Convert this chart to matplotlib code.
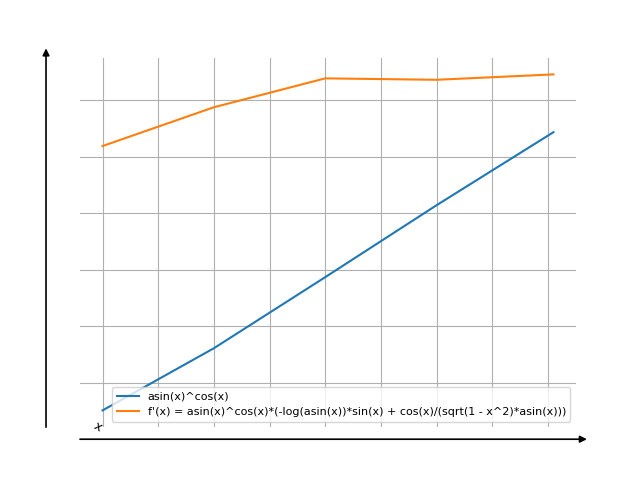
import matplotlib
matplotlib.use("Agg")
from matplotlib import pyplot as plt

# sample points and the two curves
x = [0.1, 0.3, 0.5, 0.7, 0.91]
f_vals = [0.1035, 0.323, 0.574, 0.828, 1.086]
df_vals = [1.037, 1.174, 1.276, 1.271, 1.290]

xticks = [0.1, 0.2, 0.3, 0.4, 0.5, 0.6, 0.7, 0.8, 0.9]
yticks = [0.2, 0.4, 0.6, 0.8, 1.0, 1.2]

fig, ax = plt.subplots(figsize=(6.4, 4.8), dpi=100)

ax.plot(x, f_vals, label="asin(x)^cos(x)")
ax.plot(x, df_vals, label="f'(x) = asin(x)^cos(x)*(-log(asin(x))*sin(x) + cos(x)/(sqrt(1 - x^2)*asin(x)))")

ax.set_xticks(xticks)
ax.set_yticks(yticks)
ax.tick_params(length=0, labelbottom=False, labelleft=False)
ax.grid(True)
for s in ax.spines.values():
    s.set_visible(False)

# detached axis lines with arrows
ax.annotate("", xy=(-0.0685, 1.025), xytext=(-0.0685, 0.0), xycoords="axes fraction",
            arrowprops=dict(arrowstyle="-|>", color="black", lw=1.2, mutation_scale=10,
                            shrinkA=0, shrinkB=0, facecolor="#1f3b5a"))
ax.annotate("", xy=(1.022, -0.0325), xytext=(0.0, -0.0325), xycoords="axes fraction",
            arrowprops=dict(arrowstyle="-|>", color="black", lw=1.2, mutation_scale=10,
                            shrinkA=0, shrinkB=0, facecolor="#1f3b5a"))
ax.text(0.036, 0.0, "x", transform=ax.transAxes, fontsize=9, rotation=-30,
        ha="center", va="center")

ax.legend(loc="lower right", fontsize=8)

plt.savefig("out.png")
